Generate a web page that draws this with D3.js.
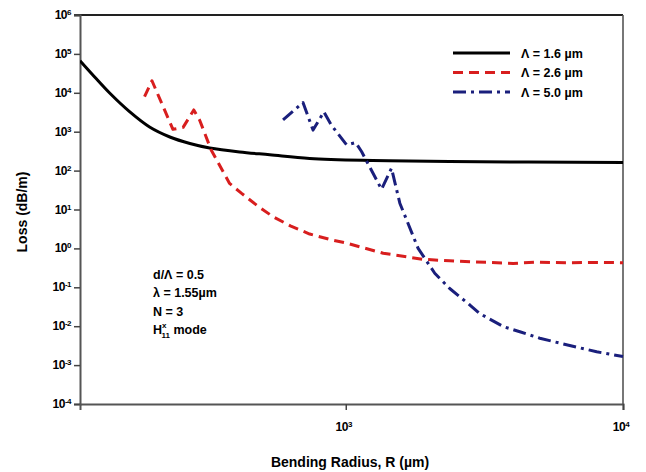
<!DOCTYPE html>
<html><head><meta charset="utf-8">
<script src="https://cdn.jsdelivr.net/npm/d3@7"></script>
<style>body{margin:0;background:#fff}svg{display:block}text{font-family:"Liberation Sans",Arial,sans-serif;font-weight:bold;fill:#000}</style>
</head><body><svg id="c" width="646" height="472"></svg>
<script>
// ---- data ----
const seriesNames = ["\u039b = 1.6 \u00b5m", "\u039b = 2.6 \u00b5m", "\u039b = 5.0 \u00b5m"];
const r16 = [110, 124, 141, 166, 196, 232, 274, 323, 414, 532, 741, 1250, 2370, 10000];
const loss16 = [6.68e4, 2.59e4, 9.7e3, 3.27e3, 1320, 731, 498, 381, 301, 255, 205, 182, 171, 162];
const r26 = [188, 200, 238, 259, 283, 297, 327, 381, 420, 479, 547, 631, 741, 891, 1000, 1365, 1900, 2370, 2820, 3310, 4020, 4790, 6310, 7940, 10000];
const loss26 = [7940, 20400, 1150, 1290, 3630, 2000, 339, 46.8, 26.3, 12.6, 6.5, 3.8, 2.34, 1.65, 1.38, 0.75, 0.525, 0.48, 0.45, 0.44, 0.41, 0.44, 0.43, 0.435, 0.43];
const r50 = [594, 701, 762, 834, 887, 1007, 1086, 1140, 1346, 1462, 1567, 1824, 2094, 2371, 2805, 3048, 3698, 4246, 5012, 6081, 8035, 10000];
const loss50 = [2000, 5620, 1100, 3240, 1480, 457, 525, 309, 33, 115, 14.5, 1.0, 0.23, 0.093, 0.035, 0.021, 0.0098, 0.0072, 0.0049, 0.0035, 0.0022, 0.00166];
const yTickExps = [6, 5, 4, 3, 2, 1, 0, -1, -2, -3, -4];
const xTickExps = [3, 4];
const notes = ["d/\u039b = 0.5", "\u03bb = 1.55\u00b5m", "N = 3"];

// ---- layout ----
const svg = d3.select("#c");
const L = 80, R = 623, T = 15, B = 404;
const x = d3.scaleLog().domain([110, 10000]).range([L, R]);
const y = d3.scaleLog().domain([1e-4, 1e6]).range([B, T]);

// frame
svg.append("line").attr("x1", 74).attr("x2", R).attr("y1", T).attr("y2", T).attr("stroke", "#222").attr("stroke-width", 2);
svg.append("line").attr("x1", R).attr("x2", R).attr("y1", T).attr("y2", B).attr("stroke", "#555").attr("stroke-width", 1.6);

// y axis
const yAxis = d3.axisLeft(y).tickValues(yTickExps.map(e => Math.pow(10, e))).tickSize(6).tickFormat("");
const yg = svg.append("g").attr("transform", `translate(${L},0)`).call(yAxis);
yg.select(".domain").attr("stroke", "#555").attr("stroke-width", 2);
yg.selectAll(".tick line").attr("stroke", "#444").attr("stroke-width", 1.5);
yTickExps.forEach(e => {
  const t = svg.append("text").attr("x", 71).attr("y", y(Math.pow(10, e)) + 4).attr("text-anchor", "end").style("font-size", "12px").style("letter-spacing", "-0.5px");
  t.append("tspan").text("10");
  t.append("tspan").attr("dy", -4).style("font-size", "8px").text(e < 0 ? "-" + (-e) : e);
});

// x axis
const xAxis = d3.axisBottom(x).tickValues(xTickExps.map(e => Math.pow(10, e))).tickSize(6).tickFormat("");
const xg = svg.append("g").attr("transform", `translate(0,${B})`).call(xAxis);
xg.select(".domain").attr("stroke", "#555").attr("stroke-width", 2);
xg.selectAll(".tick line").attr("stroke", "#444").attr("stroke-width", 1.5);
xTickExps.forEach(e => {
  const t = svg.append("text").attr("x", x(Math.pow(10, e)) - 2).attr("y", 431).attr("text-anchor", "middle").style("font-size", "12px").style("letter-spacing", "-0.5px");
  t.append("tspan").text("10");
  t.append("tspan").attr("dy", -4).style("font-size", "8px").text(e);
});

// axis titles
svg.append("text").attr("transform", "translate(27,212) rotate(-90)").attr("text-anchor", "middle").style("font-size", "14px").text("Loss (dB/m)");
svg.append("text").attr("x", 350).attr("y", 467).attr("text-anchor", "middle").style("font-size", "14px").text("Bending Radius, R (\u00b5m)");

// lines
const series = [
  {r: r16, l: loss16, color: "#000000", dash: null, curve: d3.curveCatmullRom.alpha(0.5)},
  {r: r26, l: loss26, color: "#d81e1e", dash: "10,6", curve: d3.curveLinear},
  {r: r50, l: loss50, color: "#1a1f7c", dash: "13,5,3,5", curve: d3.curveLinear}
];
svg.append("clipPath").attr("id", "pc").append("rect").attr("x", L).attr("y", T).attr("width", R - L + 2).attr("height", B - T);
series.forEach(s => {
  const pts = s.r.map((v, i) => [v, s.l[i]]);
  const line = d3.line().x(d => x(d[0])).y(d => y(d[1])).curve(s.curve);
  const p = svg.append("path").datum(pts).attr("d", line).attr("fill", "none")
    .attr("stroke", s.color).attr("stroke-width", 3).attr("stroke-linejoin", "round").attr("clip-path", "url(#pc)");
  if (s.dash) p.attr("stroke-dasharray", s.dash);
});

// legend
series.forEach((s, i) => {
  const ly = 53 + i * 19.5;
  const ln = svg.append("line").attr("x1", 453).attr("x2", 510).attr("y1", ly).attr("y2", ly)
    .attr("stroke", s.color).attr("stroke-width", 3);
  if (s.dash) ln.attr("stroke-dasharray", s.dash);
  svg.append("text").attr("x", 521).attr("y", ly + 4.5).style("font-size", "12.5px").text(seriesNames[i]);
});

// annotation
notes.forEach((n, i) => {
  svg.append("text").attr("x", 153).attr("y", 279 + i * 18.3).style("font-size", "12.5px").text(n);
});
const h = svg.append("text").attr("x", 153).attr("y", 279 + 3 * 18.3).style("font-size", "12.5px");
h.append("tspan").text("H");
h.append("tspan").attr("dy", -6).style("font-size", "8px").text("x");
h.append("tspan").attr("dx", -5).attr("dy", 10).style("font-size", "8px").text("11");
h.append("tspan").attr("dy", -4).text(" mode");
</script></body></html>
